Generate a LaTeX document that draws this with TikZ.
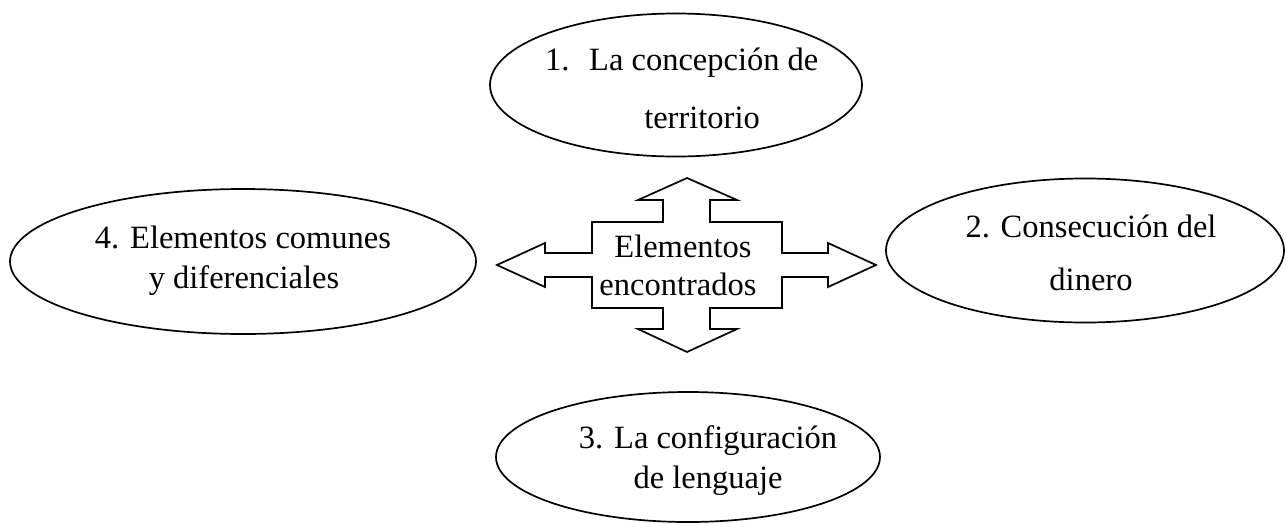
\documentclass[tikz,border=0pt]{standalone}
\usepackage{fontspec}
\setmainfont{Liberation Serif}
\usetikzlibrary{shapes.geometric}
\begin{document}
\begin{tikzpicture}[x=1pt,y=-1pt,
  oval/.style={draw,line width=1.7pt,ellipse,inner sep=0pt},
  lbl/.style={anchor=base,inner sep=0pt,font=\fontsize{32.5}{38}\selectfont},
  crossline/.style={draw,line width=1.7pt,line join=miter}]
\useasboundingbox (0,0) rectangle (1286,523);
% ellipses
\node[oval,minimum width=372pt,minimum height=143pt] (e1) at (676,85) {};
\node[oval,minimum width=398pt,minimum height=144pt] (e2) at (1085,250.5) {};
\node[oval,minimum width=384pt,minimum height=130pt] (e3) at (688,457) {};
\node[oval,minimum width=466pt,minimum height=145pt] (e4) at (243,261.5) {};
% cross arrow
\draw[crossline] (687,178) -- (737,200) -- (710,200) -- (710,222) -- (782,222)
  -- (782,253) -- (828,253) -- (828,243) -- (876,265) -- (828,287) -- (828,277)
  -- (782,277) -- (782,308) -- (710,308) -- (710,329) -- (737,329) -- (687,352)
  -- (638,329) -- (663,329) -- (663,308) -- (592,308) -- (592,277) -- (545,277)
  -- (545,287) -- (497,265) -- (545,243) -- (545,253) -- (592,253) -- (592,222)
  -- (663,222) -- (663,200) -- (638,200) -- cycle;
% texts
\node[lbl,anchor=base west] (t1a) at (545,70) {1.};
\node[lbl,anchor=base west] (t1b) at (589,70) {La concepción de};
\node[lbl] (t1c) at (702,128) {territorio};
\node[lbl] (t2a) at (1091,237) {2. Consecución del};
\node[lbl] (t2b) at (1091,290) {dinero};
\node[lbl] (t3a) at (708,448) {3. La configuración};
\node[lbl] (t3b) at (708,488) {de lenguaje};
\node[lbl] (t4a) at (243,248) {4. Elementos comunes};
\node[lbl] (t4b) at (244,288) {y diferenciales};
\node[lbl] (c1) at (683,257) {Elementos};
\node[lbl] (c2) at (678,295) {encontrados};
\end{tikzpicture}
\end{document}
